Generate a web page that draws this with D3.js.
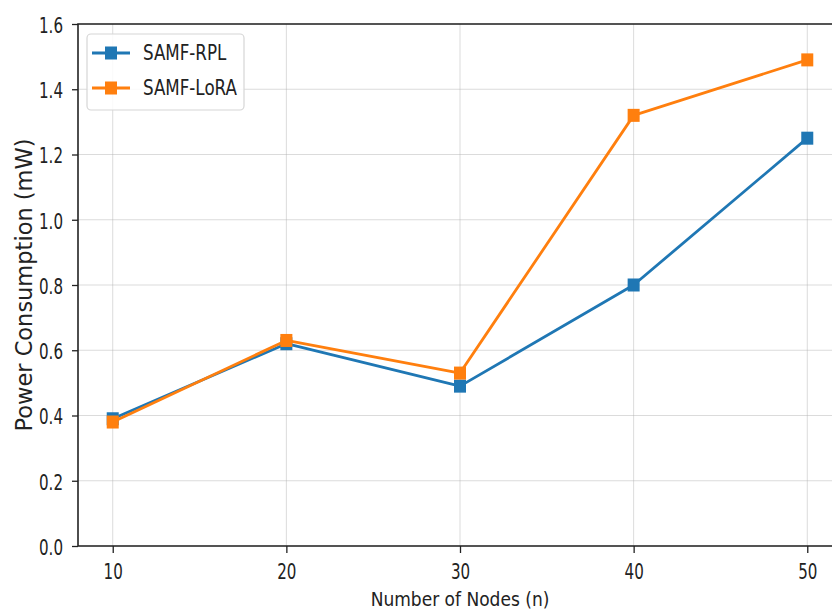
<!DOCTYPE html>
<html>
<head>
<meta charset="utf-8">
<script src="https://cdn.jsdelivr.net/npm/d3@7"></script>
<style>
  html, body { margin: 0; padding: 0; background: #fff; }
  svg { display: block; font-family: "DejaVu Sans", sans-serif; }
</style>
</head>
<body>
<div id="chart"></div>
<script>
// data
const nodes = [10, 20, 30, 40, 50];
const rplPower = [0.39, 0.62, 0.49, 0.80, 1.25];
const loraPower = [0.38, 0.63, 0.53, 1.32, 1.49];
const seriesNames = ["SAMF-RPL", "SAMF-LoRA"];
const yTicks = [0, 0.2, 0.4, 0.6, 0.8, 1.0, 1.2, 1.4, 1.6];

const width = 832, height = 611;
const plot = { left: 78, right: 842, top: 24, bottom: 546 };

const series = [
  { name: seriesNames[0], values: rplPower, color: "#1f77b4" },
  { name: seriesNames[1], values: loraPower, color: "#ff7f0e" }
];

const svg = d3.select("#chart")
  .append("svg")
  .attr("width", width)
  .attr("height", height);

const x = d3.scaleLinear().domain([8, 52]).range([plot.left, plot.right]);
const y = d3.scaleLinear().domain([0, 1.6]).range([plot.bottom, plot.top]);

// grid
svg.append("g")
  .selectAll("line.vgrid")
  .data(nodes)
  .join("line")
  .attr("x1", d => x(d)).attr("x2", d => x(d))
  .attr("y1", plot.top).attr("y2", plot.bottom)
  .attr("stroke", "#b0b0b0").attr("stroke-opacity", 0.45).attr("stroke-width", 1);

svg.append("g")
  .selectAll("line.hgrid")
  .data(yTicks)
  .join("line")
  .attr("x1", plot.left).attr("x2", plot.right)
  .attr("y1", d => y(d)).attr("y2", d => y(d))
  .attr("stroke", "#b0b0b0").attr("stroke-opacity", 0.45).attr("stroke-width", 1);

// axes
const tickFont = 21, tickSquash = 0.72;

const xAxis = svg.append("g")
  .attr("transform", `translate(0,${plot.bottom})`)
  .call(d3.axisBottom(x).tickValues(nodes).tickSize(7).tickSizeOuter(0).tickFormat(d3.format("d")));
const yAxis = svg.append("g")
  .attr("transform", `translate(${plot.left},0)`)
  .call(d3.axisLeft(y).tickValues(yTicks).tickSize(6).tickSizeOuter(0).tickFormat(d3.format(".1f")));

[xAxis, yAxis].forEach(g => {
  g.select(".domain").remove();
  g.selectAll(".tick line").attr("stroke", "#222").attr("stroke-width", 1.3);
});

xAxis.selectAll(".tick text")
  .attr("y", 0).attr("dy", null)
  .attr("transform", `translate(0,33) scale(${tickSquash},1)`)
  .attr("font-size", tickFont).attr("fill", "#222")
  .attr("font-family", "DejaVu Sans");

yAxis.selectAll(".tick text")
  .attr("x", 0).attr("dy", null)
  .attr("dominant-baseline", "central")
  .attr("transform", `translate(-15,1) scale(${tickSquash},1)`)
  .attr("font-size", tickFont).attr("fill", "#222")
  .attr("font-family", "DejaVu Sans");

// spines
svg.append("path")
  .attr("d", `M${plot.left},${plot.top}H${plot.right}V${plot.bottom}H${plot.left}Z`)
  .attr("fill", "none").attr("stroke", "#222").attr("stroke-width", 1.6);

// lines and markers
const line = d3.line().x((d, i) => x(nodes[i])).y(d => y(d));
const mw = 12, mh = 13;

series.forEach(s => {
  const g = svg.append("g");
  g.append("path")
    .datum(s.values)
    .attr("d", line)
    .attr("fill", "none")
    .attr("stroke", s.color)
    .attr("stroke-width", 2.8)
    .attr("stroke-linejoin", "round");
  g.selectAll("rect")
    .data(s.values)
    .join("rect")
    .attr("x", (d, i) => x(nodes[i]) - mw / 2)
    .attr("y", d => y(d) - mh / 2)
    .attr("width", mw).attr("height", mh)
    .attr("fill", s.color);
});

// axis labels
svg.append("text")
  .attr("transform", `translate(${(plot.left + plot.right) / 2},606) scale(0.875,1)`)
  .attr("text-anchor", "middle")
  .attr("font-size", 19.5)
  .attr("fill", "#222")
  .text("Number of Nodes (n)");

svg.append("text")
  .attr("transform", `translate(32,${(plot.top + plot.bottom) / 2}) rotate(-90)`)
  .attr("text-anchor", "middle")
  .attr("font-size", 22.5)
  .attr("fill", "#222")
  .text("Power Consumption (mW)");

// legend
const legend = svg.append("g");
legend.append("rect")
  .attr("x", 87).attr("y", 34).attr("width", 157).attr("height", 76)
  .attr("rx", 4)
  .attr("fill", "#fff").attr("fill-opacity", 0.85)
  .attr("stroke", "#d6d6d6").attr("stroke-width", 1.2);

const rowY = [53, 88];
series.forEach((s, i) => {
  const row = legend.append("g").attr("transform", `translate(0,${rowY[i]})`);
  row.append("line")
    .attr("x1", 92).attr("x2", 130)
    .attr("stroke", s.color).attr("stroke-width", 2.8);
  row.append("rect")
    .attr("x", 111 - mw / 2).attr("y", -mh / 2)
    .attr("width", mw).attr("height", mh)
    .attr("fill", s.color);
  row.append("text")
    .attr("transform", "translate(143,0) scale(0.76,1)")
    .attr("dominant-baseline", "central")
    .attr("font-size", 22)
    .attr("fill", "#222")
    .text(s.name);
});
</script>
</body>
</html>
